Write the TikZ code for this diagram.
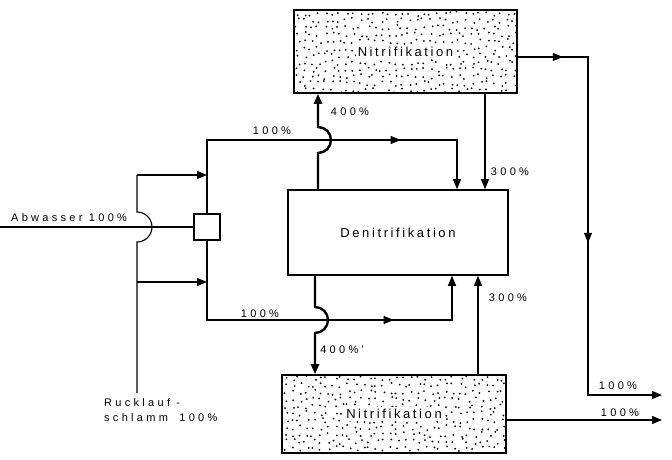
\documentclass[tikz,border=0pt]{standalone}
\usepackage{fontspec}
\setmainfont{Liberation Sans}
\newfontfamily\boxfont[LetterSpace=20]{Liberation Sans}
\newfontfamily\flowfont[LetterSpace=30]{Liberation Sans}
\usetikzlibrary{arrows.meta,calc,decorations.markings}
\tikzset{
  box/.style={draw, line width=1.6pt, inner sep=0pt, font=\boxfont\fontsize{13}{15}\selectfont},
  stipple/.style={path picture={
      \pgfmathsetseed{#1}
      \foreach \i in {0,...,32}{
        \foreach \j in {0,...,12}{
          \fill ($(path picture bounding box.north west)+(3.5+7*\i+rand*2.6,3.5+7*\j+rand*2.6)$)
            circle[radius=1.0];}}}},
  txtback/.style={fill=white, inner sep=2pt, font=\boxfont\fontsize{13}{15}\selectfont},
  flow/.style={line width=1.1pt},
  recycle/.style={line width=2.4pt},
  tip/.style={-{Triangle[length=10pt,width=8pt]}},
  midarrow/.style={postaction={decorate,decoration={markings,
      mark=at position #1 with {\arrow{Triangle[length=10pt,width=8pt]}}}}},
  lab/.style={inner sep=0pt, font=\flowfont\fontsize{11}{13}\selectfont}
}
\begin{document}
\begin{tikzpicture}[x=1pt, y=-1pt]
\useasboundingbox (0,0) rectangle (672,460);
% Becken
\node[box, stipple=3, minimum width=223pt, minimum height=83pt,
      label={[txtback]center:Nitrifikation}] (topnit) at (405.5,51.5) {};
\node[box, minimum width=220pt, minimum height=85pt] (denit) at (398,232.5) {Denitrifikation};
\node[box, stipple=11, minimum width=224pt, minimum height=78pt,
      label={[txtback]center:Nitrifikation}] (botnit) at (394,414) {};
\node[draw, line width=1.3pt, minimum size=26pt, inner sep=0pt] (mixer) at (207,227) {};
% freie Enden
\coordinate (zulauf) at (0,227);
\coordinate (ruecktop) at (137,175);
\coordinate (rueckmid) at (137,282);
\coordinate (rueckend) at (137,393);
\coordinate (ablauf1) at (662,395);
\coordinate (ablauf2) at (662,420);
% Zulauf und Ruecklaufschlamm
\draw[flow] (zulauf) -- (mixer.west);
\draw[flow] (rueckend) -- (137,242) arc[start angle=90, end angle=-90, radius=15] -- (ruecktop);
\draw[flow, tip] (ruecktop) -- (ruecktop -| mixer);
\draw[flow, tip] (rueckmid) -- (rueckmid -| mixer);
% Verteilung
\draw[flow, tip, midarrow=267pt] (mixer.north) -- (207,140) -- (457,140) -- (denit.north -| 457,0);
\draw[flow, tip, midarrow=266pt] (mixer.south) -- (207,320) -- (452,320) -- (denit.south -| 452,0);
% Rezirkulation
\draw[recycle, tip] (denit.north -| 318,0) -- (318,153)
  arc[start angle=90, end angle=-90, radius=13] -- (topnit.south -| 318,0);
\draw[recycle, tip] (denit.south -| 315,0) -- (315,307)
  arc[start angle=-90, end angle=90, radius=13] -- (botnit.north -| 315,0);
\draw[flow, tip] (topnit.south -| 485,0) -- (denit.north -| 485,0);
\draw[flow, tip] (botnit.north -| 478,0) -- (denit.south -| 478,0);
% Ablauf
\draw[flow, tip, midarrow=45pt, midarrow=256pt] ([yshift=-5.5pt]topnit.east) -- (588,57) -- (588,395) -- (ablauf1);
\draw[flow, tip] ([yshift=-6pt]botnit.east) -- (ablauf2);
% Beschriftung
\node[lab, anchor=base west] (abw) at (11,221) {Abwasser 100\%};
\node[lab, anchor=north west, align=left] (rueck) at (104,398) {Rucklauf -\\[2pt]schlamm\hspace{5pt} 100\%};
\node[lab] (q1) at (272,131) {100\%};
\node[lab] (q2) at (260,314) {100\%};
\node[lab] (r1) at (350,112) {400\%};
\node[lab] (r2) at (342,350) {400\%'};
\node[lab] (n1) at (510,172) {300\%};
\node[lab] (n2) at (508,298) {300\%};
\node[lab] (a1) at (618,386) {100\%};
\node[lab] (a2) at (620,413) {100\%};
\end{tikzpicture}
\end{document}
